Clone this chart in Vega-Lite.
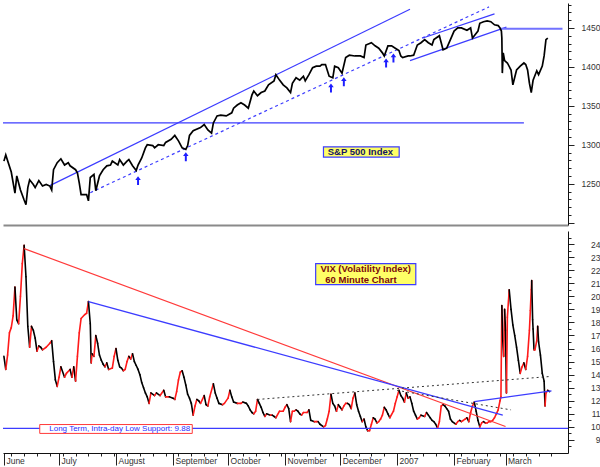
{
"$schema": "https://vega.github.io/schema/vega-lite/v6.json",
"padding": 0,
"background": "white",
"spacing": 3,
"config": {"view": {"stroke": null}, "font": "Liberation Sans", "axis": {"labelFont": "Liberation Sans", "labelFontSize": 8.5, "labelColor": "#333", "tickColor": "#222", "domainColor": "#111", "grid": false, "title": null, "labelOverlap": false}},
"datasets": {
"sp": [
{"d":"2006-06-01","v":1279},{"d":"2006-06-02","v":1287},{"d":"2006-06-05","v":1265},{"d":"2006-06-07","v":1238},{"d":"2006-06-08","v":1260},{"d":"2006-06-10","v":1242},{"d":"2006-06-12","v":1229},{"d":"2006-06-13","v":1223},{"d":"2006-06-14","v":1245},{"d":"2006-06-15","v":1255},{"d":"2006-06-17","v":1249},{"d":"2006-06-18","v":1245},{"d":"2006-06-20","v":1254},{"d":"2006-06-22","v":1247},{"d":"2006-06-24","v":1249},{"d":"2006-06-26","v":1247},{"d":"2006-06-27","v":1242},{"d":"2006-06-28","v":1268},{"d":"2006-06-30","v":1277},
{"d":"2006-07-02","v":1282},{"d":"2006-07-04","v":1274},{"d":"2006-07-06","v":1277},{"d":"2006-07-07","v":1273},{"d":"2006-07-10","v":1268},{"d":"2006-07-11","v":1264},{"d":"2006-07-12","v":1251},{"d":"2006-07-13","v":1236},{"d":"2006-07-16","v":1236},{"d":"2006-07-17","v":1228},{"d":"2006-07-18","v":1258},{"d":"2006-07-20","v":1262},{"d":"2006-07-21","v":1241},{"d":"2006-07-23","v":1260},{"d":"2006-07-25","v":1268},{"d":"2006-07-27","v":1273},{"d":"2006-07-29","v":1274},{"d":"2006-07-30","v":1279},
{"d":"2006-08-02","v":1274},{"d":"2006-08-03","v":1281},{"d":"2006-08-05","v":1274},{"d":"2006-08-07","v":1279},{"d":"2006-08-08","v":1281},{"d":"2006-08-10","v":1273},{"d":"2006-08-12","v":1267},{"d":"2006-08-13","v":1274},{"d":"2006-08-15","v":1283},{"d":"2006-08-17","v":1296},{"d":"2006-08-18","v":1300},{"d":"2006-08-21","v":1299},{"d":"2006-08-22","v":1296},{"d":"2006-08-24","v":1300},{"d":"2006-08-27","v":1299},{"d":"2006-08-28","v":1303},{"d":"2006-08-31","v":1307},
{"d":"2006-09-02","v":1312},{"d":"2006-09-04","v":1305},{"d":"2006-09-06","v":1296},{"d":"2006-09-08","v":1294},{"d":"2006-09-09","v":1299},{"d":"2006-09-10","v":1312},{"d":"2006-09-12","v":1318},{"d":"2006-09-16","v":1322},{"d":"2006-09-18","v":1326},{"d":"2006-09-20","v":1319},{"d":"2006-09-22","v":1315},{"d":"2006-09-23","v":1328},{"d":"2006-09-25","v":1337},{"d":"2006-09-27","v":1338},{"d":"2006-09-30","v":1337},
{"d":"2006-10-03","v":1341},{"d":"2006-10-04","v":1347},{"d":"2006-10-06","v":1351},{"d":"2006-10-08","v":1354},{"d":"2006-10-10","v":1351},{"d":"2006-10-12","v":1347},{"d":"2006-10-14","v":1364},{"d":"2006-10-15","v":1369},{"d":"2006-10-17","v":1363},{"d":"2006-10-19","v":1367},{"d":"2006-10-21","v":1369},{"d":"2006-10-23","v":1377},{"d":"2006-10-26","v":1382},{"d":"2006-10-27","v":1390},{"d":"2006-10-29","v":1383},{"d":"2006-10-31","v":1377},
{"d":"2006-11-02","v":1373},{"d":"2006-11-04","v":1367},{"d":"2006-11-05","v":1379},{"d":"2006-11-07","v":1386},{"d":"2006-11-09","v":1383},{"d":"2006-11-11","v":1388},{"d":"2006-11-12","v":1382},{"d":"2006-11-14","v":1390},{"d":"2006-11-16","v":1399},{"d":"2006-11-18","v":1401},{"d":"2006-11-20","v":1401},{"d":"2006-11-21","v":1403},{"d":"2006-11-23","v":1403},{"d":"2006-11-25","v":1388},{"d":"2006-11-27","v":1386},{"d":"2006-11-28","v":1401},{"d":"2006-11-30","v":1399},
{"d":"2006-12-02","v":1392},{"d":"2006-12-04","v":1412},{"d":"2006-12-06","v":1415},{"d":"2006-12-09","v":1414},{"d":"2006-12-12","v":1414},{"d":"2006-12-14","v":1412},{"d":"2006-12-15","v":1428},{"d":"2006-12-18","v":1431},{"d":"2006-12-20","v":1427},{"d":"2006-12-22","v":1424},{"d":"2006-12-24","v":1418},{"d":"2006-12-25","v":1414},{"d":"2006-12-27","v":1427},{"d":"2006-12-29","v":1427},{"d":"2006-12-31","v":1424},
{"d":"2007-01-02","v":1421},{"d":"2007-01-03","v":1414},{"d":"2007-01-04","v":1412},{"d":"2007-01-07","v":1414},{"d":"2007-01-08","v":1414},{"d":"2007-01-10","v":1415},{"d":"2007-01-12","v":1428},{"d":"2007-01-14","v":1431},{"d":"2007-01-16","v":1435},{"d":"2007-01-18","v":1431},{"d":"2007-01-20","v":1428},{"d":"2007-01-21","v":1435},{"d":"2007-01-24","v":1440},{"d":"2007-01-25","v":1431},{"d":"2007-01-26","v":1422},{"d":"2007-01-28","v":1424},{"d":"2007-01-30","v":1435},
{"d":"2007-02-01","v":1446},{"d":"2007-02-03","v":1450},{"d":"2007-02-05","v":1450},{"d":"2007-02-08","v":1447},{"d":"2007-02-10","v":1450},{"d":"2007-02-11","v":1437},{"d":"2007-02-12","v":1440},{"d":"2007-02-14","v":1446},{"d":"2007-02-15","v":1456},{"d":"2007-02-17","v":1458},{"d":"2007-02-19","v":1459},{"d":"2007-02-21","v":1458},{"d":"2007-02-23","v":1454},{"d":"2007-02-25","v":1453},{"d":"2007-02-26","v":1450},{"d":"2007-02-26T18:00Z","v":1446},{"d":"2007-02-27T00:00Z","v":1437},{"d":"2007-02-27T06:00Z","v":1392},{"d":"2007-02-27T18:00Z","v":1418},{"d":"2007-02-28T12:00Z","v":1408},
{"d":"2007-03-02","v":1405},{"d":"2007-03-04","v":1396},{"d":"2007-03-05","v":1377},{"d":"2007-03-07","v":1396},{"d":"2007-03-09","v":1401},{"d":"2007-03-11","v":1405},{"d":"2007-03-12","v":1403},{"d":"2007-03-13","v":1396},{"d":"2007-03-14","v":1379},{"d":"2007-03-15","v":1367},{"d":"2007-03-16","v":1383},{"d":"2007-03-18","v":1395},{"d":"2007-03-19","v":1390},{"d":"2007-03-21","v":1401},{"d":"2007-03-22","v":1414},{"d":"2007-03-23","v":1435},{"d":"2007-03-24","v":1437}
],
"vix": [
{"d":"2006-06-01","v":15.4},{"d":"2006-06-02","v":14.4},{"d":"2006-06-03","v":15.5},{"d":"2006-06-04","v":17.2},{"d":"2006-06-05","v":17.6},{"d":"2006-06-06","v":18.5},{"d":"2006-06-07","v":20.7},{"d":"2006-06-08","v":18.2},{"d":"2006-06-09","v":17.9},{"d":"2006-06-10","v":20.0},{"d":"2006-06-11","v":22.5},{"d":"2006-06-12","v":23.9},{"d":"2006-06-13","v":21.5},{"d":"2006-06-14","v":17.7},{"d":"2006-06-15","v":16.1},{"d":"2006-06-16","v":17.7},{"d":"2006-06-17","v":17.4},{"d":"2006-06-18","v":16.8},{"d":"2006-06-19","v":15.8},{"d":"2006-06-20","v":16.2},{"d":"2006-06-21","v":16.1},{"d":"2006-06-22","v":15.9},{"d":"2006-06-24","v":16.1},{"d":"2006-06-26","v":16.4},{"d":"2006-06-27","v":16.6},{"d":"2006-06-28","v":15.0},{"d":"2006-06-29","v":13.6},{"d":"2006-06-30","v":13.1},
{"d":"2006-07-01","v":13.8},{"d":"2006-07-02","v":14.6},{"d":"2006-07-04","v":13.8},{"d":"2006-07-05","v":14.1},{"d":"2006-07-07","v":14.4},{"d":"2006-07-08","v":13.8},{"d":"2006-07-09","v":14.6},{"d":"2006-07-10","v":13.5},{"d":"2006-07-11","v":15.4},{"d":"2006-07-12","v":17.2},{"d":"2006-07-13","v":18.3},{"d":"2006-07-15","v":18.6},{"d":"2006-07-16","v":18.7},{"d":"2006-07-17","v":19.6},{"d":"2006-07-18","v":17.9},{"d":"2006-07-18T12:00Z","v":14.9},{"d":"2006-07-19","v":15.6},{"d":"2006-07-20","v":15.4},{"d":"2006-07-21","v":17.0},{"d":"2006-07-22","v":16.4},{"d":"2006-07-23","v":15.5},{"d":"2006-07-24","v":15.1},{"d":"2006-07-25","v":14.8},{"d":"2006-07-26","v":14.6},{"d":"2006-07-27","v":14.9},{"d":"2006-07-28","v":14.4},{"d":"2006-07-30","v":14.5},{"d":"2006-07-31","v":15.4},
{"d":"2006-08-01","v":16.0},{"d":"2006-08-02","v":15.1},{"d":"2006-08-03","v":14.6},{"d":"2006-08-04","v":14.5},{"d":"2006-08-05","v":14.3},{"d":"2006-08-06","v":14.4},{"d":"2006-08-07","v":15.0},{"d":"2006-08-08","v":15.4},{"d":"2006-08-09","v":15.2},{"d":"2006-08-10","v":15.6},{"d":"2006-08-11","v":15.0},{"d":"2006-08-12","v":14.7},{"d":"2006-08-13","v":14.4},{"d":"2006-08-14","v":14.0},{"d":"2006-08-15","v":13.4},{"d":"2006-08-16","v":13.0},{"d":"2006-08-17","v":12.6},{"d":"2006-08-18","v":12.3},{"d":"2006-08-19","v":11.8},{"d":"2006-08-20","v":12.6},{"d":"2006-08-22","v":12.4},{"d":"2006-08-23","v":12.6},{"d":"2006-08-25","v":12.4},{"d":"2006-08-27","v":12.8},{"d":"2006-08-28","v":12.3},{"d":"2006-08-30","v":12.3},
{"d":"2006-09-01","v":12.2},{"d":"2006-09-02","v":12.1},{"d":"2006-09-03","v":12.7},{"d":"2006-09-04","v":13.6},{"d":"2006-09-05","v":14.2},{"d":"2006-09-06","v":14.3},{"d":"2006-09-07","v":13.8},{"d":"2006-09-08","v":13.2},{"d":"2006-09-09","v":12.5},{"d":"2006-09-10","v":12.2},{"d":"2006-09-11","v":11.8},{"d":"2006-09-12","v":10.9},{"d":"2006-09-13","v":11.6},{"d":"2006-09-14","v":12.1},{"d":"2006-09-15","v":12.0},{"d":"2006-09-16","v":11.8},{"d":"2006-09-18","v":12.4},{"d":"2006-09-19","v":11.7},{"d":"2006-09-20","v":11.6},{"d":"2006-09-21","v":12.3},{"d":"2006-09-23","v":13.3},{"d":"2006-09-24","v":12.6},{"d":"2006-09-25","v":12.2},{"d":"2006-09-26","v":11.8},{"d":"2006-09-28","v":11.7},{"d":"2006-09-29","v":11.8},
{"d":"2006-10-01","v":12.2},{"d":"2006-10-02","v":12.8},{"d":"2006-10-03","v":12.3},{"d":"2006-10-04","v":11.9},{"d":"2006-10-06","v":11.8},{"d":"2006-10-08","v":11.8},{"d":"2006-10-09","v":11.9},{"d":"2006-10-11","v":11.8},{"d":"2006-10-12","v":11.6},{"d":"2006-10-13","v":11.3},{"d":"2006-10-14","v":11.1},{"d":"2006-10-15","v":11.0},{"d":"2006-10-16","v":11.2},{"d":"2006-10-17","v":12.1},{"d":"2006-10-18","v":11.8},{"d":"2006-10-19","v":11.5},{"d":"2006-10-20","v":11.1},{"d":"2006-10-21","v":10.8},{"d":"2006-10-22","v":11.0},{"d":"2006-10-24","v":10.9},{"d":"2006-10-25","v":10.9},{"d":"2006-10-26","v":10.8},{"d":"2006-10-27","v":10.7},{"d":"2006-10-29","v":11.2},{"d":"2006-10-31","v":11.2},
{"d":"2006-11-01","v":11.5},{"d":"2006-11-02","v":11.7},{"d":"2006-11-03","v":11.4},{"d":"2006-11-04","v":10.4},{"d":"2006-11-05","v":11.2},{"d":"2006-11-06","v":11.2},{"d":"2006-11-07","v":11.3},{"d":"2006-11-08","v":11.2},{"d":"2006-11-09","v":11.0},{"d":"2006-11-10","v":10.9},{"d":"2006-11-11","v":11.1},{"d":"2006-11-13","v":11.1},{"d":"2006-11-14","v":11.3},{"d":"2006-11-15","v":10.5},{"d":"2006-11-17","v":10.4},{"d":"2006-11-18","v":10.4},{"d":"2006-11-19","v":10.4},{"d":"2006-11-20","v":10.2},{"d":"2006-11-22","v":10.0},{"d":"2006-11-23","v":10.1},{"d":"2006-11-24","v":10.6},{"d":"2006-11-25","v":11.2},{"d":"2006-11-26","v":12.5},{"d":"2006-11-27","v":11.8},{"d":"2006-11-28","v":11.6},{"d":"2006-11-29","v":11.2},{"d":"2006-11-30","v":11.7},
{"d":"2006-12-01","v":11.5},{"d":"2006-12-02","v":11.3},{"d":"2006-12-03","v":11.6},{"d":"2006-12-04","v":11.8},{"d":"2006-12-05","v":11.8},{"d":"2006-12-06","v":11.7},{"d":"2006-12-07","v":11.4},{"d":"2006-12-08","v":12.2},{"d":"2006-12-09","v":12.6},{"d":"2006-12-10","v":11.7},{"d":"2006-12-11","v":11.2},{"d":"2006-12-12","v":10.8},{"d":"2006-12-13","v":10.4},{"d":"2006-12-14","v":10.6},{"d":"2006-12-15","v":10.0},{"d":"2006-12-16","v":9.7},{"d":"2006-12-17","v":9.7},{"d":"2006-12-18","v":10.2},{"d":"2006-12-19","v":10.7},{"d":"2006-12-20","v":10.6},{"d":"2006-12-21","v":10.3},{"d":"2006-12-22","v":10.4},{"d":"2006-12-23","v":10.6},{"d":"2006-12-24","v":10.9},{"d":"2006-12-25","v":11.5},{"d":"2006-12-26","v":11.3},{"d":"2006-12-27","v":11.0},{"d":"2006-12-28","v":10.7},{"d":"2006-12-30","v":11.2},{"d":"2006-12-31","v":11.8},
{"d":"2007-01-01","v":12.3},{"d":"2007-01-02","v":12.8},{"d":"2007-01-03","v":12.4},{"d":"2007-01-04","v":12.2},{"d":"2007-01-05","v":11.9},{"d":"2007-01-06","v":12.6},{"d":"2007-01-07","v":12.2},{"d":"2007-01-08","v":12.3},{"d":"2007-01-09","v":11.8},{"d":"2007-01-10","v":11.2},{"d":"2007-01-11","v":10.9},{"d":"2007-01-12","v":10.6},{"d":"2007-01-13","v":10.7},{"d":"2007-01-14","v":10.9},{"d":"2007-01-16","v":10.8},{"d":"2007-01-17","v":11.1},{"d":"2007-01-18","v":10.9},{"d":"2007-01-19","v":10.7},{"d":"2007-01-20","v":10.5},{"d":"2007-01-21","v":10.4},{"d":"2007-01-22","v":10.2},{"d":"2007-01-23","v":9.9},{"d":"2007-01-24","v":10.4},{"d":"2007-01-25","v":11.6},{"d":"2007-01-26","v":11.7},{"d":"2007-01-27","v":11.6},{"d":"2007-01-28","v":11.4},{"d":"2007-01-29","v":11.2},{"d":"2007-01-30","v":10.6},{"d":"2007-01-31","v":10.4},
{"d":"2007-02-02","v":10.2},{"d":"2007-02-03","v":10.4},{"d":"2007-02-04","v":10.5},{"d":"2007-02-05","v":10.4},{"d":"2007-02-06","v":10.5},{"d":"2007-02-07","v":10.6},{"d":"2007-02-08","v":10.7},{"d":"2007-02-09","v":10.4},{"d":"2007-02-10","v":11.1},{"d":"2007-02-11","v":11.6},{"d":"2007-02-12","v":11.9},{"d":"2007-02-13","v":11.2},{"d":"2007-02-14","v":10.5},{"d":"2007-02-15","v":10.0},{"d":"2007-02-16","v":10.3},{"d":"2007-02-17","v":10.4},{"d":"2007-02-18","v":10.3},{"d":"2007-02-19","v":10.3},{"d":"2007-02-20","v":10.4},{"d":"2007-02-21","v":10.4},{"d":"2007-02-22","v":10.5},{"d":"2007-02-23","v":10.7},{"d":"2007-02-24","v":11.0},{"d":"2007-02-25","v":11.3},{"d":"2007-02-26","v":12.0},{"d":"2007-02-26T12:00Z","v":12.3},{"d":"2007-02-27","v":19.3},{"d":"2007-02-27T12:00Z","v":16.6},{"d":"2007-02-28","v":15.4},{"d":"2007-02-28T12:00Z","v":19.0},
{"d":"2007-03-01","v":17.4},{"d":"2007-03-01T12:00Z","v":12.6},{"d":"2007-03-02","v":18.4},{"d":"2007-03-03","v":20.5},{"d":"2007-03-04","v":19.0},{"d":"2007-03-05","v":17.8},{"d":"2007-03-06","v":17.0},{"d":"2007-03-07","v":16.1},{"d":"2007-03-08","v":15.1},{"d":"2007-03-09","v":14.1},{"d":"2007-03-10","v":14.6},{"d":"2007-03-11","v":14.9},{"d":"2007-03-12","v":14.4},{"d":"2007-03-13","v":15.4},{"d":"2007-03-14","v":17.4},{"d":"2007-03-14T12:00Z","v":18.9},{"d":"2007-03-15","v":20.5},{"d":"2007-03-15T06:00Z","v":21.2},{"d":"2007-03-15T18:00Z","v":18.2},{"d":"2007-03-16","v":17.5},{"d":"2007-03-16T12:00Z","v":15.9},{"d":"2007-03-17","v":15.9},{"d":"2007-03-18","v":16.6},{"d":"2007-03-18T12:00Z","v":17.7},{"d":"2007-03-19","v":16.5},{"d":"2007-03-20","v":15.5},{"d":"2007-03-21","v":14.1},{"d":"2007-03-22","v":13.5},{"d":"2007-03-22T12:00Z","v":11.6},{"d":"2007-03-23","v":12.6},{"d":"2007-03-24","v":12.8},{"d":"2007-03-25","v":12.7}
],
"spLines": [
{"k":"solid","d":"2006-06-26","v":1247.5,"d2":"2007-01-08","v2":1474},
{"k":"dash","d":"2006-07-18","v":1238.5,"d2":"2007-02-20","v2":1477},
{"k":"solid","d":"2006-05-31T12:00Z","v":1328,"d2":"2007-03-11","v2":1328},
{"k":"solid","d":"2007-01-15","v":1437,"d2":"2007-02-23","v2":1468},
{"k":"solid","d":"2007-01-08","v":1408,"d2":"2007-03-01T12:00Z","v2":1451},
{"k":"thick","d":"2007-02-26T06:00Z","v":1449,"d2":"2007-04-01","v2":1449}
],
"vixLines": [
{"k":"red","d":"2006-06-12","v":23.65,"d2":"2007-03-01","v2":10.03},
{"k":"blue","d":"2006-07-17","v":19.6,"d2":"2007-02-27T12:00Z","v2":10.9},
{"k":"blue","d":"2006-05-31T12:00Z","v":9.88,"d2":"2007-04-04","v2":9.88},
{"k":"blue","d":"2007-02-12","v":11.94,"d2":"2007-03-26","v2":12.76},
{"k":"dot","d":"2006-10-17","v":12.1,"d2":"2007-03-24T12:00Z","v2":13.85},
{"k":"dot","d":"2007-01-01","v":12.8,"d2":"2007-03-04","v2":11.3}
],
"arrows": [
{"d":"2006-08-13","v":1254},{"d":"2006-09-08","v":1284.6},{"d":"2006-11-26","v":1373},{"d":"2006-12-03","v":1381},{"d":"2006-12-26","v":1405},{"d":"2006-12-30","v":1411.5}
],
"spNotes": [
{"k":"box","d":"2006-11-21T22:00Z","d2":"2007-01-02T03:00Z","v":1297.4,"v2":1284.2},
{"k":"txt","d":"2006-12-12","v":1291,"t":"S&P 500 Index"}
],
"vixNotes": [
{"k":"box","d":"2006-11-17T16:00Z","d2":"2007-01-11T04:00Z","v":22.5,"v2":20.9},
{"k":"title","d":"2006-11-20T06:00Z","v":22.07,"t":"VIX (Volatility Index)"},
{"k":"title","d":"2006-11-22T22:00Z","v":21.28,"t":"60 Minute Chart"},
{"k":"sbox","d":"2006-06-20T12:00Z","d2":"2006-09-11T12:00Z","v":10.18,"v2":9.5},
{"k":"stxt","d":"2006-08-03","v":9.85,"t":"Long Term, Intra-day Low Support: 9.88"}
]
},
"vconcat": [
{
"width": 565, "height": 222,
"encoding": {
"x": {"field": "d", "type": "temporal", "scale": {"type": "utc", "domain": [{"year":2006,"month":5,"date":31,"hours":12,"utc":true},{"year":2007,"month":4,"date":4,"utc":true}]}, "axis": {"labels": false, "ticks": false, "domainColor": "#8a8a8a", "domainWidth": 2}},
"y": {"field": "v", "type": "quantitative", "scale": {"domain": [1197, 1482], "nice": false, "zero": false}, "axis": {"orient": "right", "values": [1200,1210,1220,1230,1240,1250,1260,1270,1280,1290,1300,1310,1320,1330,1340,1350,1360,1370,1380,1390,1400,1410,1420,1430,1440,1450,1460,1470,1480], "labelExpr": "datum.value % 50 == 0 && datum.value >= 1250 && datum.value <= 1450 ? '' + datum.value : ''", "tickSize": {"condition": {"test": "datum.value % 50 == 0", "value": 6}, "value": 3}, "labelPadding": 26, "labelAlign": "right", "labelBaseline": "middle"}}
},
"layer": [
{"data": {"name": "spLines", "format": {"parse": {"d": "date", "d2": "date"}}}, "transform": [{"filter": "datum.k == 'solid'"}], "mark": {"type": "rule", "color": "#3c3cff", "strokeWidth": 1.2}, "encoding": {"x2": {"field": "d2"}, "y2": {"field": "v2"}}},
{"data": {"name": "spLines", "format": {"parse": {"d": "date", "d2": "date"}}}, "transform": [{"filter": "datum.k == 'dash'"}], "mark": {"type": "rule", "color": "#3c3cff", "strokeWidth": 1.2, "strokeDash": [3, 3]}, "encoding": {"x2": {"field": "d2"}, "y2": {"field": "v2"}}},
{"data": {"name": "spLines", "format": {"parse": {"d": "date", "d2": "date"}}}, "transform": [{"filter": "datum.k == 'thick'"}], "mark": {"type": "rule", "color": "#7272ff", "strokeWidth": 2}, "encoding": {"x2": {"field": "d2"}, "y2": {"field": "v2"}}},
{"data": {"name": "sp", "format": {"parse": {"d": "date"}}}, "mark": {"type": "line", "color": "#000", "strokeWidth": 1.7}},
{"data": {"name": "arrows", "format": {"parse": {"d": "date"}}}, "mark": {"type": "point", "shape": "M0,-1L0.62,-0.15L0.22,-0.15L0.22,1L-0.22,1L-0.22,-0.15L-0.62,-0.15Z", "filled": true, "color": "#1e1eff", "opacity": 1, "size": 80}},
{"data": {"name": "spNotes", "format": {"parse": {"d": "date", "d2": "date"}}}, "transform": [{"filter": "datum.k == 'box'"}], "mark": {"type": "rect", "fill": "#ffff66", "stroke": "#3c3cff", "strokeWidth": 1.2}, "encoding": {"x2": {"field": "d2"}, "y2": {"field": "v2"}}},
{"data": {"name": "spNotes", "format": {"parse": {"d": "date"}}}, "transform": [{"filter": "datum.k == 'txt'"}], "mark": {"type": "text", "font": "Liberation Sans", "fontWeight": "bold", "fontSize": 9.5, "color": "#141464", "align": "center", "baseline": "middle"}, "encoding": {"text": {"field": "t"}}}
]
},
{
"width": 565, "height": 222,
"encoding": {
"x": {"field": "d", "type": "temporal", "scale": {"type": "utc", "domain": [{"year":2006,"month":5,"date":31,"hours":12,"utc":true},{"year":2007,"month":4,"date":4,"utc":true}]}, "axis": {"values": [
{"year":2006,"month":6,"date":1,"utc":true},{"year":2006,"month":7,"date":1,"utc":true},{"year":2006,"month":8,"date":1,"utc":true},{"year":2006,"month":9,"date":1,"utc":true},{"year":2006,"month":10,"date":1,"utc":true},{"year":2006,"month":11,"date":1,"utc":true},{"year":2006,"month":12,"date":1,"utc":true},{"year":2007,"month":1,"date":1,"utc":true},{"year":2007,"month":2,"date":1,"utc":true},{"year":2007,"month":3,"date":1,"utc":true},
{"year":2006,"month":6,"date":5,"utc":true},{"year":2006,"month":6,"date":12,"utc":true},{"year":2006,"month":6,"date":19,"utc":true},{"year":2006,"month":6,"date":26,"utc":true},{"year":2006,"month":7,"date":3,"utc":true},{"year":2006,"month":7,"date":10,"utc":true},{"year":2006,"month":7,"date":17,"utc":true},{"year":2006,"month":7,"date":24,"utc":true},{"year":2006,"month":7,"date":31,"utc":true},{"year":2006,"month":8,"date":7,"utc":true},{"year":2006,"month":8,"date":14,"utc":true},{"year":2006,"month":8,"date":21,"utc":true},{"year":2006,"month":8,"date":28,"utc":true},{"year":2006,"month":9,"date":4,"utc":true},{"year":2006,"month":9,"date":11,"utc":true},{"year":2006,"month":9,"date":18,"utc":true},{"year":2006,"month":9,"date":25,"utc":true},{"year":2006,"month":10,"date":2,"utc":true},{"year":2006,"month":10,"date":9,"utc":true},{"year":2006,"month":10,"date":16,"utc":true},{"year":2006,"month":10,"date":23,"utc":true},{"year":2006,"month":10,"date":30,"utc":true},{"year":2006,"month":11,"date":6,"utc":true},{"year":2006,"month":11,"date":13,"utc":true},{"year":2006,"month":11,"date":20,"utc":true},{"year":2006,"month":11,"date":27,"utc":true},{"year":2006,"month":12,"date":4,"utc":true},{"year":2006,"month":12,"date":11,"utc":true},{"year":2006,"month":12,"date":18,"utc":true},{"year":2006,"month":12,"date":25,"utc":true},{"year":2007,"month":1,"date":8,"utc":true},{"year":2007,"month":1,"date":15,"utc":true},{"year":2007,"month":1,"date":22,"utc":true},{"year":2007,"month":1,"date":29,"utc":true},{"year":2007,"month":2,"date":5,"utc":true},{"year":2007,"month":2,"date":12,"utc":true},{"year":2007,"month":2,"date":19,"utc":true},{"year":2007,"month":2,"date":26,"utc":true},{"year":2007,"month":3,"date":5,"utc":true},{"year":2007,"month":3,"date":12,"utc":true},{"year":2007,"month":3,"date":19,"utc":true},{"year":2007,"month":3,"date":26,"utc":true}
], "labelExpr": "utcdate(datum.value) == 1 ? (utcmonth(datum.value) == 0 ? utcFormat(datum.value, '%Y') : utcFormat(datum.value, '%B')) : ''", "tickSize": {"condition": {"test": "utcdate(datum.value) == 1", "value": 12}, "value": 3}, "labelPadding": -9, "labelAlign": "left", "labelBaseline": "top", "labelOffset": 2, "labelFlush": false, "domainColor": "#111"}},
"y": {"field": "v", "type": "quantitative", "scale": {"domain": [8, 25], "nice": false, "zero": false}, "axis": {"orient": "right", "values": [8.5,9,9.5,10,10.5,11,11.5,12,12.5,13,13.5,14,14.5,15,15.5,16,16.5,17,17.5,18,18.5,19,19.5,20,20.5,21,21.5,22,22.5,23,23.5,24,24.5], "labelExpr": "datum.value % 1 == 0 && datum.value >= 9 && datum.value <= 24 ? '' + datum.value : ''", "tickSize": {"condition": {"test": "datum.value % 1 == 0", "value": 6}, "value": 3}, "labelPadding": 26, "labelAlign": "right", "labelBaseline": "middle"}}
},
"layer": [
{"data": {"name": "vix", "format": {"parse": {"d": "date"}}}, "transform": [{"window": [{"op": "lag", "field": "d", "as": "pd"}, {"op": "lag", "field": "v", "as": "pv"}], "sort": [{"field": "d", "order": "ascending"}]}, {"filter": "datum.pd != null"}], "mark": {"type": "rule", "strokeWidth": 1.6, "strokeCap": "round"}, "encoding": {"x": {"field": "pd", "type": "temporal"}, "x2": {"field": "d"}, "y": {"field": "pv", "type": "quantitative"}, "y2": {"field": "v"}, "color": {"condition": {"test": "datum.v >= datum.pv", "value": "#ff1a1a"}, "value": "#000000"}}},
{"data": {"name": "vixLines", "format": {"parse": {"d": "date", "d2": "date"}}}, "transform": [{"filter": "datum.k == 'red'"}], "mark": {"type": "rule", "color": "#ff3a3a", "strokeWidth": 1.2}, "encoding": {"x2": {"field": "d2"}, "y2": {"field": "v2"}}},
{"data": {"name": "vixLines", "format": {"parse": {"d": "date", "d2": "date"}}}, "transform": [{"filter": "datum.k == 'blue'"}], "mark": {"type": "rule", "color": "#3c3cff", "strokeWidth": 1.3}, "encoding": {"x2": {"field": "d2"}, "y2": {"field": "v2"}}},
{"data": {"name": "vixLines", "format": {"parse": {"d": "date", "d2": "date"}}}, "transform": [{"filter": "datum.k == 'dot'"}], "mark": {"type": "rule", "color": "#333", "strokeWidth": 1, "strokeDash": [2, 3]}, "encoding": {"x2": {"field": "d2"}, "y2": {"field": "v2"}}},
{"data": {"name": "vixNotes", "format": {"parse": {"d": "date", "d2": "date"}}}, "transform": [{"filter": "datum.k == 'box'"}], "mark": {"type": "rect", "fill": "#ffff66", "stroke": "#3c3cff", "strokeWidth": 1.2}, "encoding": {"x2": {"field": "d2"}, "y2": {"field": "v2"}}},
{"data": {"name": "vixNotes", "format": {"parse": {"d": "date", "d2": "date"}}}, "transform": [{"filter": "datum.k == 'sbox'"}], "mark": {"type": "rect", "fill": "#ffffff", "stroke": "#ff3a3a", "strokeWidth": 1}, "encoding": {"x2": {"field": "d2"}, "y2": {"field": "v2"}}},
{"data": {"name": "vixNotes", "format": {"parse": {"d": "date"}}}, "transform": [{"filter": "datum.k == 'title'"}], "mark": {"type": "text", "font": "Liberation Sans", "fontWeight": "bold", "fontSize": 9.5, "color": "#7a0a0a", "align": "left", "baseline": "middle"}, "encoding": {"text": {"field": "t"}}},
{"data": {"name": "vixNotes", "format": {"parse": {"d": "date"}}}, "transform": [{"filter": "datum.k == 'stxt'"}], "mark": {"type": "text", "font": "Liberation Sans", "fontSize": 8, "color": "#2a2aff", "align": "center", "baseline": "middle"}, "encoding": {"text": {"field": "t"}}}
]
}
]
}
